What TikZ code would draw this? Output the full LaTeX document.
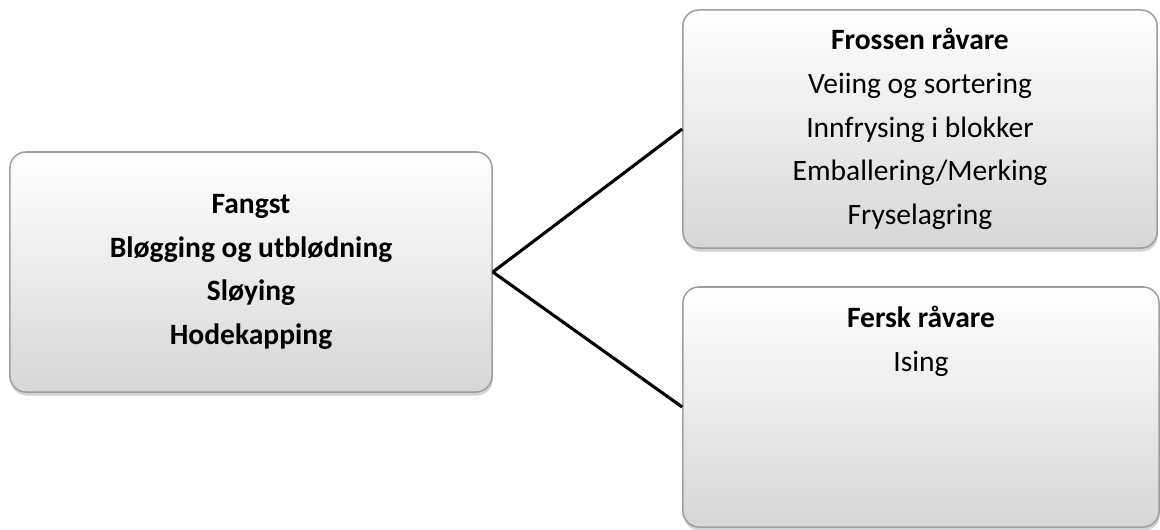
\documentclass[tikz,border=0pt]{standalone}
\usepackage{fontspec}
\setmainfont{Carlito}
\usetikzlibrary{shadows}

\begin{document}
\begin{tikzpicture}[
  x=0.025cm, y=-0.025cm,
  box/.style={rectangle, rounded corners=0.4cm, draw=gray!75, line width=1.1pt,
    top color=white, bottom color=gray!32,
    drop shadow={shadow xshift=0.6pt, shadow yshift=-2.5pt, opacity=0.35},
    align=center, inner sep=0pt, font=\fontsize{21}{31}\selectfont},
  boxtext/.style={align=center, inner sep=0pt, font=\fontsize{21}{31}\selectfont},
  link/.style={line width=2.2pt}
]
\useasboundingbox (0,0) rectangle (1160,529);

\node[box, minimum width=12.05cm, minimum height=6cm] (fangst) at (251,272)
  {\textbf{Fangst}\\\textbf{Bløgging og utblødning}\\\textbf{Sløying}\\\textbf{Hodekapping}};
\node[box, minimum width=11.85cm, minimum height=5.95cm] (frossen) at (920,129)
  {\textbf{Frossen råvare}\\Veiing og sortering\\Innfrysing i blokker\\Emballering/Merking\\Fryselagring};
\node[box, minimum width=11.9cm, minimum height=6cm] (fersk) at (921,407) {};
\node[boxtext, anchor=north] (ferskt) at ([yshift=-0.5cm]fersk.north)
  {\textbf{Fersk råvare}\\Ising};

\draw[link] (fangst.east) -- (frossen.west);
\draw[link] (fangst.east) -- (fersk.west);
\end{tikzpicture}
\end{document}
